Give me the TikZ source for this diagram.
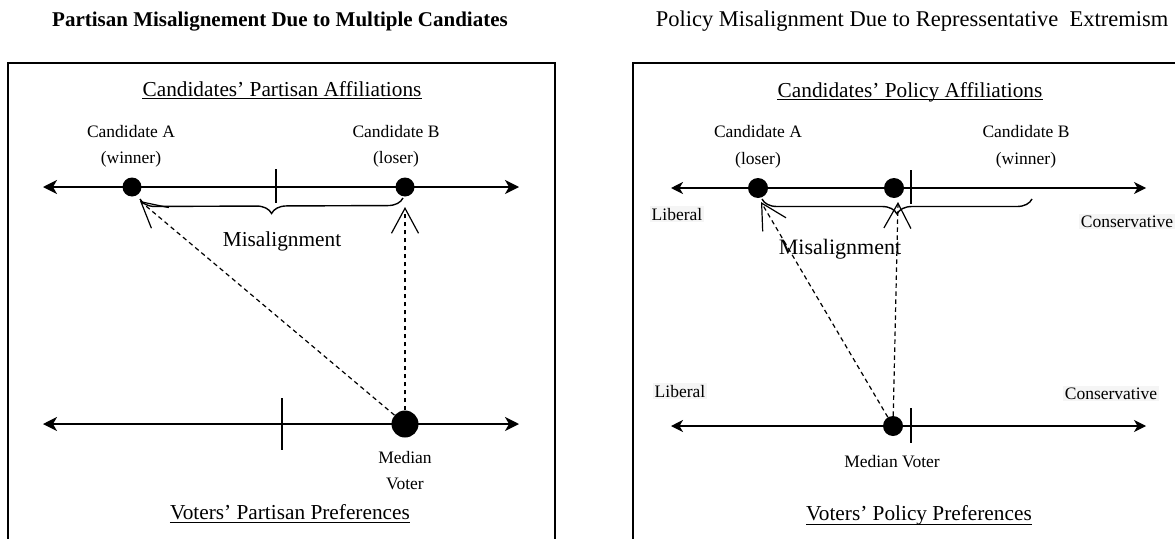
\documentclass[tikz,border=0pt]{standalone}
\usepackage{fontspec}
\setmainfont{Liberation Serif}
\usetikzlibrary{arrows.meta,decorations.pathreplacing}

\begin{document}
\begin{tikzpicture}[x=1pt,y=-1pt,
  frame/.style={line width=1.5pt},
  axisA/.style={line width=1.4pt,{Stealth[length=14pt,width=14pt,inset=4pt]}-{Stealth[length=14pt,width=14pt,inset=4pt]}},
  axisB/.style={line width=1.3pt,{Stealth[length=12pt,width=12pt,inset=3.5pt]}-{Stealth[length=12pt,width=12pt,inset=3.5pt]}},
  dot/.style={circle,fill=black,inner sep=0pt,minimum size=#1},
  tickmark/.style={line width=1.3pt},
  link/.style={line width=1.2pt,dash pattern=on 4.5pt off 3.5pt,-{Straight Barb[length=25pt,width=27pt]}},
  bracket/.style={line width=1.4pt,decorate,decoration={brace,amplitude=15pt,mirror}},
  uline/.style={line width=1pt},
  lbl/.style={font=\fontsize{17.5}{20}\selectfont,inner sep=0pt,anchor=base},
  head/.style={font=\fontsize{21.3}{24}\selectfont,inner sep=0pt,anchor=base},
  side/.style={lbl,fill=black!4,inner sep=1.5pt},
]
\useasboundingbox (0,0) rectangle (1175,538);

% ---------------- left panel: partisan misalignment ----------------
\node[font=\fontsize{21}{24}\bfseries\selectfont,anchor=base] (title1) at (280,26)
  {Partisan Misalignement Due to Multiple Candiates};
\draw[frame] (8,545) -- (8,63) -- (555,63) -- (555,545);

\node[head] (sub1) at (282,96.5) {Candidates’ Partisan Affiliations\ };
\draw[uline] ([yshift=-2pt]sub1.base west) -- ([yshift=-2pt]sub1.base east);

% candidates' axis
\coordinate (c1l) at (43,187);
\coordinate (c1r) at (519,187);
\draw[axisA] (c1l) -- (c1r);
\coordinate (c1t) at (276,169);
\coordinate (c1b) at (276,203);
\draw[tickmark] (c1t) -- (c1b);
\node[dot=19pt] (ca1) at (132,187) {};
\node[dot=19pt] (cb1) at (405,187) {};
\node[lbl] (na1) at (131,137) {Candidate A};
\node[lbl] (wa1) at (131,163) {(winner)};
\node[lbl] (nb1) at (396,137) {Candidate B};
\node[lbl] (wb1) at (396,163) {(loser)};

% misalignment brace
\coordinate (bl1) at (140,199);
\coordinate (br1) at (403,198);
\draw[bracket] (bl1) -- (br1);
\node[head] (mis1) at (282,246) {Misalignment};

% voters' axis
\coordinate (v1l) at (43,424);
\coordinate (v1r) at (519,424);
\draw[axisA] (v1l) -- (v1r);
\coordinate (v1t) at (282,398);
\coordinate (v1b) at (282,450);
\draw[tickmark] (v1t) -- (v1b);
\node[dot=27pt] (mv1) at (405,424) {};
\node[lbl] (md1) at (405,463) {Median};
\node[lbl] (vt1) at (405,489) {Voter};
\node[head] (pre1) at (290,519) {Voters’ Partisan Preferences};
\draw[uline] ([yshift=-3pt]pre1.base west) -- ([yshift=-3pt]pre1.base east);

% distances from the median voter
\coordinate (tipA1) at (140,201);
\coordinate (tipB1) at (405,207);
\draw[link] (mv1) -- (tipA1);
\draw[link] (mv1) -- (tipB1);

% ---------------- right panel: policy misalignment ----------------
\node[font=\fontsize{22.5}{24}\selectfont,anchor=base] (title2) at (912,27)
  {Policy Misalignment Due to Repressentative\ \ Extremism};
\draw[frame] (1180,63) -- (633,63) -- (633,545);

\node[head] (sub2) at (910,97) {Candidates’ Policy Affiliations\ };
\draw[uline] ([yshift=-2pt]sub2.base west) -- ([yshift=-2pt]sub2.base east);

% candidates' axis
\coordinate (c2l) at (671,188);
\coordinate (c2r) at (1146,188);
\draw[axisB] (c2l) -- (c2r);
\coordinate (c2t) at (911,170);
\coordinate (c2b) at (911,204);
\draw[tickmark] (c2t) -- (c2b);
\node[dot=20pt] (ca2) at (758,188) {};
\node[dot=20pt] (cm2) at (894,188) {};
\node[lbl] (na2) at (758,137) {Candidate A};
\node[lbl] (wa2) at (758,164) {(loser)};
\node[lbl] (nb2) at (1026,137) {Candidate B};
\node[lbl] (wb2) at (1026,164) {(winner)};
\node[side] (lib2) at (677,220) {Liberal};
\node[side] (con2) at (1127,227) {Conservative};

% misalignment brace
\coordinate (bl2) at (762,199);
\coordinate (br2) at (1032,199);
\draw[bracket] (bl2) -- (br2);
\node[head,font=\fontsize{22}{24}\selectfont] (mis2) at (840,254) {Misalignment};

% voters' axis
\node[side] (lib3) at (680,397) {Liberal};
\node[side] (con3) at (1111,399) {Conservative};
\coordinate (v2l) at (671,426);
\coordinate (v2r) at (1146,426);
\draw[axisB] (v2l) -- (v2r);
\coordinate (v2t) at (911,408);
\coordinate (v2b) at (911,443);
\draw[tickmark] (v2t) -- (v2b);
\node[dot=20pt] (mv2) at (893,426) {};
\node[lbl] (md2) at (892,467) {Median Voter};
\node[head] (pre2) at (919,520) {Voters’ Policy Preferences};
\draw[uline] ([yshift=-4pt]pre2.base west) -- ([yshift=-4pt]pre2.base east);

% distances from the median voter
\coordinate (tipA2) at (761,202);
\coordinate (tipB2) at (898,202);
\draw[link] (mv2) -- (tipA2);
\draw[link] (mv2) -- (tipB2);
\end{tikzpicture}
\end{document}
